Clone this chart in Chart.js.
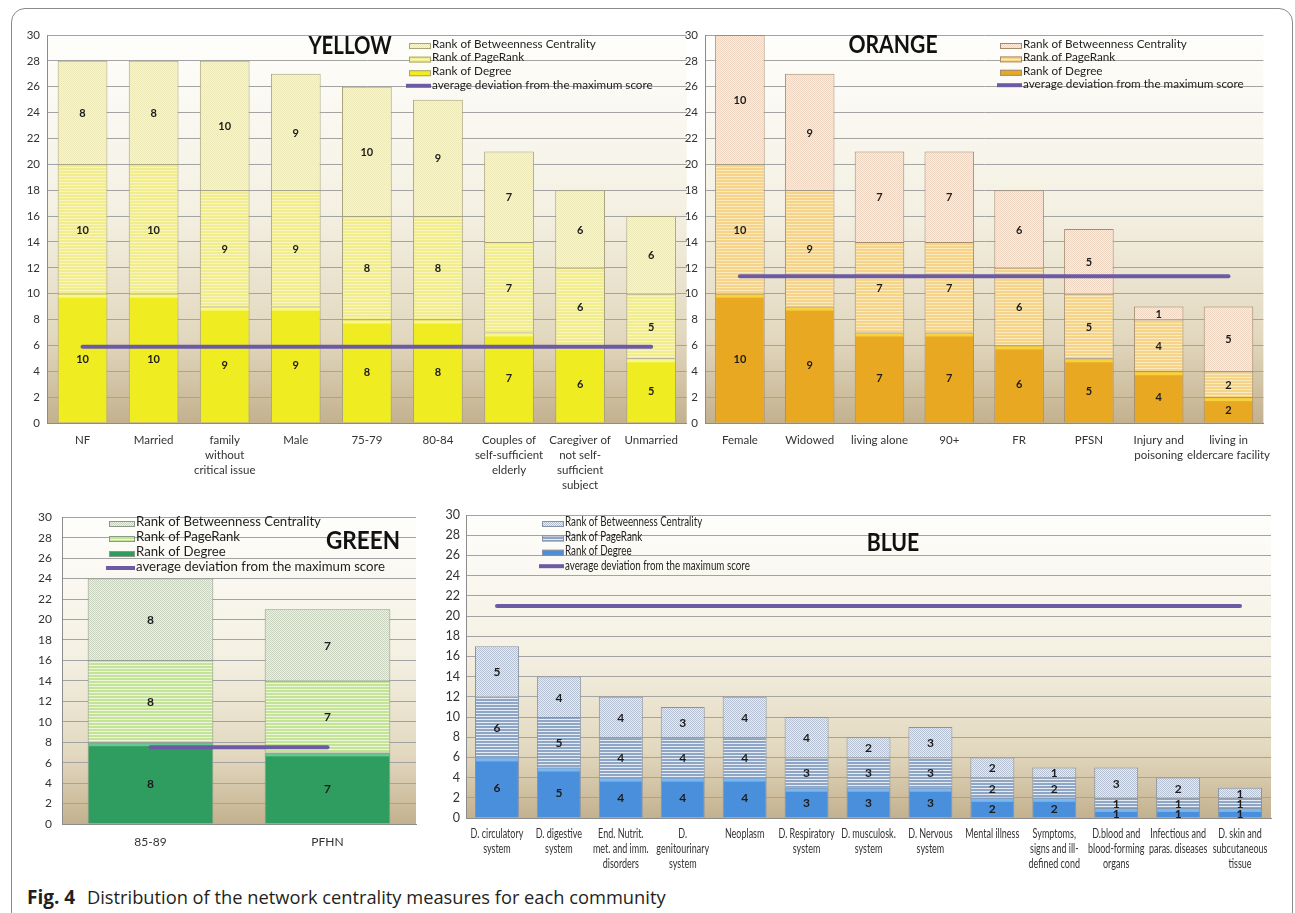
<!DOCTYPE html>
<html>
<head>
<meta charset="utf-8">
<script src="https://cdn.jsdelivr.net/npm/chart.js@4.4.1/dist/chart.umd.min.js"></script>
<style>
    body { margin: 0; background: #fff; width: 1295px; height: 913px; overflow: hidden; position: relative; }
    .frame { position: absolute; left: 11px; top: 8px; width: 1282px; height: 918px; border: 1.5px solid #8a8a8a; border-radius: 14px; box-sizing: border-box; }
    .panel { position: absolute; }
    .caption { position: absolute; left: 27px; top: 884px; font-family: 'Open Sans', sans-serif; font-size: 18.3px; color: #231f20; white-space: nowrap; }
    .caption b { font-size: 19px; font-weight: 700; margin-right: 7px; }
</style>
</head>
<body>
<div class="frame"></div>
<div class="panel" style="left:12px;top:20px;width:676px;height:470px"><canvas id="chart-yellow"></canvas></div>
<div class="panel" style="left:680px;top:20px;width:600px;height:470px"><canvas id="chart-orange"></canvas></div>
<div class="panel" style="left:12px;top:500px;width:405px;height:360px"><canvas id="chart-green"></canvas></div>
<div class="panel" style="left:436px;top:500px;width:836px;height:380px"><canvas id="chart-blue"></canvas></div>
<div class="caption"><b>Fig. 4</b> Distribution of the network centrality measures for each community</div>

<script>
// series names shared by all four communities
const degreeLabel = 'Rank of Degree';
const pageRankLabel = 'Rank of PageRank';
const betweennessLabel = 'Rank of Betweenness Centrality';
const averageLabel = 'average deviation from the maximum score';

// YELLOW community
const yellowCategories = [['NF'], ['Married'], ['family', 'without', 'critical issue'], ['Male'], ['75-79'], ['80-84'],
    ['Couples of', 'self-sufficient', 'elderly'], ['Caregiver of', 'not self-', 'sufficient', 'subject'], ['Unmarried']];
const yellowDegree = [10, 10, 9, 9, 8, 8, 7, 6, 5];
const yellowPageRank = [10, 10, 9, 9, 8, 8, 7, 6, 5];
const yellowBetweenness = [8, 8, 10, 9, 10, 9, 7, 6, 6];
const yellowAverage = 5.9;

// ORANGE community
const orangeCategories = [['Female'], ['Widowed'], ['living alone'], ['90+'], ['FR'], ['PFSN'],
    ['Injury and', 'poisoning'], ['living in', 'eldercare facility']];
const orangeDegree = [10, 9, 7, 7, 6, 5, 4, 2];
const orangePageRank = [10, 9, 7, 7, 6, 5, 4, 2];
const orangeBetweenness = [10, 9, 7, 7, 6, 5, 1, 5];
const orangeAverage = 11.35;

// GREEN community
const greenCategories = [['85-89'], ['PFHN']];
const greenDegree = [8, 7];
const greenPageRank = [8, 7];
const greenBetweenness = [8, 7];
const greenAverage = 7.5;

// BLUE community
const blueCategories = [['D. circulatory', 'system'], ['D. digestive', 'system'], ['End. Nutrit.', 'met. and imm.', 'disorders'],
    ['D.', 'genitourinary', 'system'], ['Neoplasm'], ['D. Respiratory', 'system'], ['D. musculosk.', 'system'],
    ['D. Nervous', 'system'], ['Mental illness'], ['Symptoms,', 'signs and ill-', 'defined cond'],
    ['D.blood and', 'blood-forming', 'organs'], ['Infectious and', 'paras. diseases'], ['D. skin and', 'subcutaneous', 'tissue']];
const blueDegree = [6, 5, 4, 4, 4, 3, 3, 3, 2, 2, 1, 1, 1];
const bluePageRank = [6, 5, 4, 4, 4, 3, 3, 3, 2, 2, 1, 1, 1];
const blueBetweenness = [5, 4, 4, 3, 4, 4, 2, 3, 2, 1, 3, 2, 1];
const blueAverage = 21;

const yTicks = { min: 0, max: 30, step: 2 };

/**
 * horizontal line texture used for the PageRank segments
 */
function stripes(base, line) {
    let c = document.createElement('canvas');
    c.width = 4; c.height = 3;
    let g = c.getContext('2d');
    g.fillStyle = base; g.fillRect(0, 0, 4, 3);
    g.fillStyle = line; g.fillRect(0, 0, 4, 1);
    return g.createPattern(c, 'repeat');
}

/**
 * fine checker texture used for the betweenness segments
 */
function dots(base, dot) {
    let c = document.createElement('canvas');
    c.width = 2; c.height = 2;
    let g = c.getContext('2d');
    g.fillStyle = base; g.fillRect(0, 0, 2, 2);
    g.fillStyle = dot; g.fillRect(0, 0, 1, 1); g.fillRect(1, 1, 1, 1);
    return g.createPattern(c, 'repeat');
}

// plot background, bevel on the degree bars, segment values, title and legend
const panelDecor = {
    id: 'panelDecor',
    beforeDraw(chart, args, o) {
        const {ctx, chartArea: a} = chart;
        let grad = ctx.createLinearGradient(0, a.top, 0, a.bottom);
        grad.addColorStop(0, '#fefefc');
        grad.addColorStop(0.45, '#f4f0e2');
        grad.addColorStop(0.78, '#e2d8bf');
        grad.addColorStop(1, '#c3b18e');
        ctx.save();
        ctx.fillStyle = grad;
        ctx.fillRect(a.left, a.top, a.right - a.left, a.bottom - a.top);
        ctx.restore();
    },
    afterDatasetDraw(chart, args, o) {
        if (args.index !== 0) return;
        const ctx = chart.ctx;
        ctx.save();
        ctx.fillStyle = o.bevel;
        for (const el of args.meta.data) {
            ctx.fillRect(el.x - el.width / 2 + 1, el.y + 1, el.width - 2, 3);
        }
        ctx.restore();
    },
    afterDatasetsDraw(chart, args, o) {
        const ctx = chart.ctx;
        ctx.save();
        ctx.font = 'bold ' + o.valueSize + 'px ' + o.family;
        ctx.fillStyle = '#1c1c1c';
        ctx.textAlign = 'center';
        ctx.textBaseline = 'middle';
        chart.data.datasets.forEach((ds, i) => {
            if (ds.type === 'line') return;
            chart.getDatasetMeta(i).data.forEach((el, j) => {
                ctx.fillText(String(ds.data[j]), el.x, (el.y + el.base) / 2 + 1);
            });
        });
        ctx.restore();
    },
    afterDraw(chart, args, o) {
        const ctx = chart.ctx;
        ctx.save();
        // community name
        ctx.translate(o.title.x - o.ox, o.title.y - o.oy);
        ctx.scale(o.title.squeeze, 1);
        ctx.font = 'bold ' + o.title.size + 'px ' + o.family;
        ctx.fillStyle = '#111';
        ctx.textAlign = 'center';
        ctx.textBaseline = 'middle';
        ctx.fillText(o.title.text, 0, 0);
        ctx.restore();

        // condensed category names, placed on the library's tick positions
        if (o.narrow < 1) {
            const sx = chart.scales.x;
            const lh = o.tickSize * 1.22;
            ctx.save();
            ctx.font = o.tickSize + 'px ' + o.family;
            ctx.fillStyle = '#333';
            ctx.textAlign = 'center';
            ctx.textBaseline = 'middle';
            chart.data.labels.forEach((lines, i) => {
                const x = sx.getPixelForTick(i);
                lines.forEach((t, k) => {
                    ctx.save();
                    ctx.translate(x, chart.chartArea.bottom + o.xPad + lh / 2 + k * lh);
                    ctx.scale(o.narrow, 1);
                    ctx.fillText(t, 0, 0);
                    ctx.restore();
                });
            });
            ctx.restore();
        }

        // legend, top entry is the last bar series
        const L = o.legend;
        const ds = chart.data.datasets;
        const order = [2, 1, 0, 3];
        ctx.save();
        ctx.font = L.size + 'px ' + o.family;
        ctx.textBaseline = 'middle';
        order.forEach((k, row) => {
            const d = ds[k];
            const x = L.x - o.ox;
            const y = L.y - o.oy + row * L.gap;
            if (d.type === 'line') {
                ctx.strokeStyle = d.borderColor;
                ctx.lineWidth = 4;
                ctx.beginPath();
                ctx.moveTo(x - 3, y + 1);
                ctx.lineTo(x + L.swatch, y + 1);
                ctx.stroke();
            } else {
                ctx.fillStyle = d.backgroundColor;
                ctx.fillRect(x, y - 1, L.swatch, 6);
                ctx.strokeStyle = d.borderColor;
                ctx.lineWidth = 1;
                ctx.strokeRect(x + 0.5, y - 0.5, L.swatch - 1, 5);
            }
            ctx.fillStyle = '#1e1e1e';
            ctx.save();
            ctx.translate(x + L.swatch + 1, y);
            ctx.scale(o.narrow, 1);
            ctx.fillText(d.label, 0, 0);
            ctx.restore();
        });
        ctx.restore();
    }
};

/**
 * builds one stacked community chart
 */
function buildChart(id, p) {
    return new Chart(document.getElementById(id), {
        data: {
            labels: p.categories,
            datasets: [
                {type: 'bar', label: degreeLabel, data: p.degree, backgroundColor: p.colors.degree,
                    borderColor: p.colors.border, borderWidth: 1, stack: 'ranks', order: 1},
                {type: 'bar', label: pageRankLabel, data: p.pageRank, backgroundColor: p.colors.pageRank,
                    borderColor: p.colors.border, borderWidth: 1, stack: 'ranks', order: 1},
                {type: 'bar', label: betweennessLabel, data: p.betweenness, backgroundColor: p.colors.betweenness,
                    borderColor: p.colors.border, borderWidth: 1, stack: 'ranks', order: 1},
                {type: 'line', label: averageLabel, data: p.categories.map(() => p.average),
                    borderColor: '#6c5ba4', borderWidth: 4, borderCapStyle: 'round', pointRadius: 0,
                    stack: 'avg', order: 0}
            ]
        },
        options: {
            responsive: true,
            maintainAspectRatio: false,
            animation: false,
            layout: {padding: {top: 15, right: 1, left: 0, bottom: 0}},
            datasets: {bar: {barPercentage: p.barPct, categoryPercentage: 1}},
            scales: {
                x: {
                    stacked: true,
                    grid: {display: false, drawTicks: false, tickLength: 0},
                    border: {color: '#8c8c8c'},
                    ticks: {display: p.narrow === 1, color: '#333', font: {family: p.family, size: p.tickSize, lineHeight: 1.3},
                        padding: p.xPad, maxRotation: 0, autoSkip: false},
                    afterFit: s => { s.height = p.xHeight; }
                },
                y: {
                    stacked: true,
                    min: yTicks.min, max: yTicks.max,
                    grid: {color: '#a3a3a3', drawTicks: false, tickLength: 0},
                    border: {color: '#8c8c8c'},
                    ticks: {stepSize: yTicks.step, color: '#333', font: {family: p.family, size: p.tickSize}, padding: p.yPad},
                    afterFit: s => { s.width = p.yWidth; }
                }
            },
            plugins: {
                legend: {display: false},
                tooltip: {enabled: false},
                panelDecor: {
                    ox: p.ox, oy: p.oy, family: p.family, narrow: p.narrow, tickSize: p.tickSize, xPad: p.xPad,
                    valueSize: p.valueSize, bevel: p.colors.bevel, title: p.title, legend: p.legend
                }
            }
        },
        plugins: [panelDecor]
    });
}

const mainFont = 'Lato, "Open Sans", sans-serif';

buildChart('chart-yellow', {
    categories: yellowCategories, degree: yellowDegree, pageRank: yellowPageRank,
    betweenness: yellowBetweenness, average: yellowAverage,
    colors: {degree: '#efec22', pageRank: stripes('#f1ec8c', '#f8f5c2'), betweenness: dots('#f9f6d6', '#ebe7b6'),
        border: '#a8a37c', bevel: '#f9f78a'},
    ox: 12, oy: 20, yWidth: 35, xHeight: 67, xPad: 10, yPad: 7, barPct: 0.7, narrow: 1,
    family: mainFont, tickSize: 11.5, valueSize: 11,
    title: {text: 'YELLOW', x: 350, y: 46, size: 24, squeeze: 0.85},
    legend: {x: 409, y: 44, gap: 13.6, swatch: 22, size: 11.7}
});

buildChart('chart-orange', {
    categories: orangeCategories, degree: orangeDegree, pageRank: orangePageRank,
    betweenness: orangeBetweenness, average: orangeAverage,
    colors: {degree: '#e9a822', pageRank: stripes('#f5d48a', '#fbe9c0'), betweenness: dots('#f9ece0', '#eed6c3'),
        border: '#a48c6c', bevel: '#f7d23e'},
    ox: 680, oy: 20, yWidth: 25, xHeight: 67, xPad: 10, yPad: 7, barPct: 0.71, narrow: 1,
    family: mainFont, tickSize: 11.5, valueSize: 11,
    title: {text: 'ORANGE', x: 893, y: 45, size: 24, squeeze: 0.88},
    legend: {x: 1000, y: 44, gap: 13.4, swatch: 22, size: 11.7}
});

buildChart('chart-green', {
    categories: greenCategories, degree: greenDegree, pageRank: greenPageRank,
    betweenness: greenBetweenness, average: greenAverage,
    colors: {degree: '#2f9d5f', pageRank: stripes('#c5e299', '#ecf6d8'), betweenness: dots('#eef2e6', '#c9d2bf'),
        border: '#8b9a88', bevel: '#66c890'},
    ox: 12, oy: 500, yWidth: 50, xHeight: 36, xPad: 10, yPad: 10, barPct: 0.71, narrow: 1,
    family: mainFont, tickSize: 12, valueSize: 12,
    title: {text: 'GREEN', x: 363, y: 541, size: 25, squeeze: 0.9},
    legend: {x: 109, y: 522, gap: 15, swatch: 26, size: 13.2}
});

buildChart('chart-blue', {
    categories: blueCategories, degree: blueDegree, pageRank: bluePageRank,
    betweenness: blueBetweenness, average: blueAverage,
    colors: {degree: '#4a8fdb', pageRank: stripes('#8ea5c6', '#e6ecf4'), betweenness: dots('#e8ecf2', '#b5c1d2'),
        border: '#8693a6', bevel: '#7cb6ef'},
    ox: 436, oy: 500, yWidth: 30, xHeight: 62, xPad: 8, yPad: 6, barPct: 0.71, narrow: 0.72,
    family: mainFont, tickSize: 12.5, valueSize: 12,
    title: {text: 'BLUE', x: 893, y: 543, size: 25, squeeze: 0.85},
    legend: {x: 542, y: 522, gap: 14.4, swatch: 22, size: 13.6}
});
</script>
</body>
</html>
